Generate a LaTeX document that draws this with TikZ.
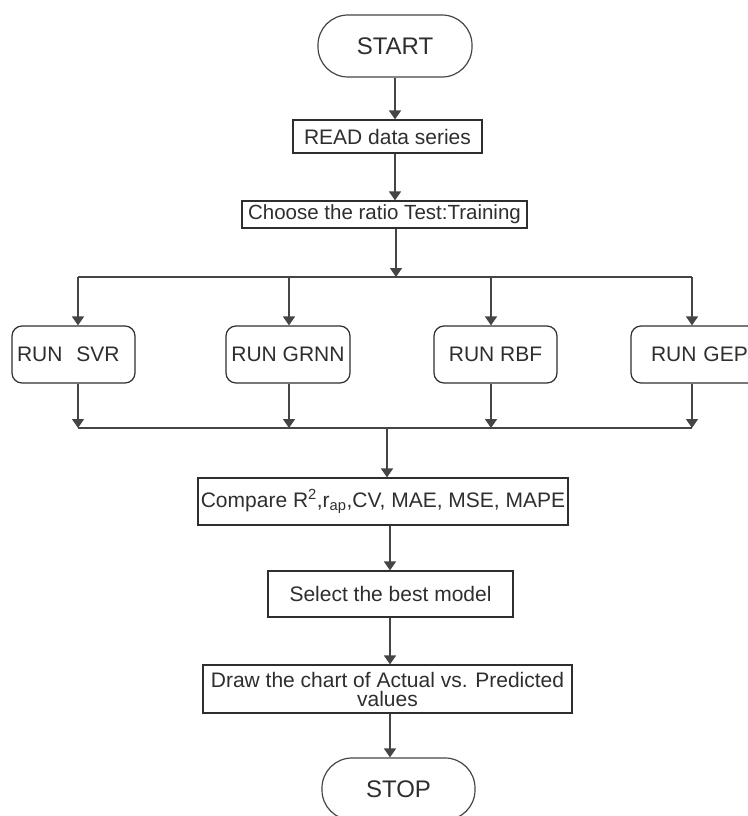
\documentclass[tikz,border=0pt]{standalone}
\usepackage{fontspec}
\setmainfont{Liberation Sans}
\usetikzlibrary{arrows.meta}

\definecolor{linegray}{HTML}{454545}
\definecolor{textgray}{HTML}{2E2E2E}

\tikzset{
  flow/.style={draw=linegray, line width=1.6pt, -{Triangle[width=12pt,length=9pt]}},
  joint/.style={draw=linegray, line width=1.6pt},
  stepbox/.style={draw=textgray, line width=1.2pt, rectangle, inner sep=0pt,
    text=textgray, font=\fontsize{21}{19}\selectfont},
  runbox/.style={stepbox, rounded corners=10pt, minimum width=123pt, minimum height=57pt},
  terminal/.style={stepbox, draw=linegray, rounded corners=30pt, minimum height=62pt,
    font=\fontsize{24}{24}\selectfont}
}

\begin{document}
\begin{tikzpicture}[x=1pt,y=-1pt]
	\useasboundingbox (0,0) rectangle (747,816);
	% main column
	\node[terminal, minimum width=154pt] (start) at (395,46) {START};
	\node[stepbox, minimum width=189pt, minimum height=33pt] (read) at (387.5,136.5) {READ data series};
	\node[stepbox, minimum width=285pt, minimum height=27pt, font=\fontsize{20.5}{18}\selectfont] (choose) at (384.5,214.5) {Choose the ratio Test:Training};
	\coordinate (axis) at (395,0);
	\coordinate (split) at (396,277);
	% the four models
	\node[runbox, text width=113pt, inner xsep=5pt, align=left] (svr) at (73.5,354.5) {RUN\ \ SVR};
	\node[runbox, minimum width=124pt] (grnn) at (288,354.5) {RUN GRNN};
	\node[runbox] (rbf) at (495.5,354.5) {RUN RBF};
	\node[runbox, text width=104pt, inner xsep=20pt, align=left] (gep) at (703,354.5) {RUN GEP};
	\coordinate (merge) at (387,428);
	\coordinate (axisb) at (390,0);
	% lower column
	\node[stepbox, minimum width=370pt, minimum height=47pt] (compare) at (383,501.5) {Compare R\textsuperscript{2},r\textsubscript{ap},CV, MAE, MSE, MAPE};
	\node[stepbox, minimum width=245pt, minimum height=46pt] (select) at (390.5,594) {Select the best model};
	\node[stepbox, minimum width=369pt, minimum height=48pt, align=center] (chart) at (387.5,689) {Draw the chart of Actual vs. Predicted\\values};
	\node[terminal, minimum width=153pt] (stop) at (398.5,789) {STOP};

	\draw[flow] (start.south -| axis) -- (read.north -| axis);
	\draw[flow] (read.south -| axis) -- (choose.north -| axis);
	\draw[flow] (choose.south -| split) -- (split);
	\foreach \n/\x in {svr/78, grnn/289, rbf/491, gep/692} {
		\coordinate (top\n) at (\x,277);
		\coordinate (bot\n) at (\x,428);
		\draw[flow] (top\n) -- (top\n |- \n.north);
		\draw[flow] (top\n |- \n.south) -- (bot\n);
	}
	\draw[joint] (topsvr) -- (topgep);
	\draw[joint] (botsvr) -- (botgep);
	\draw[flow] (merge) -- (compare.north -| merge);
	\draw[flow] (compare.south -| axisb) -- (select.north -| axisb);
	\draw[flow] (select.south -| axisb) -- (chart.north -| axisb);
	\draw[flow] (chart.south -| axisb) -- (stop.north -| axisb);
\end{tikzpicture}
\end{document}
